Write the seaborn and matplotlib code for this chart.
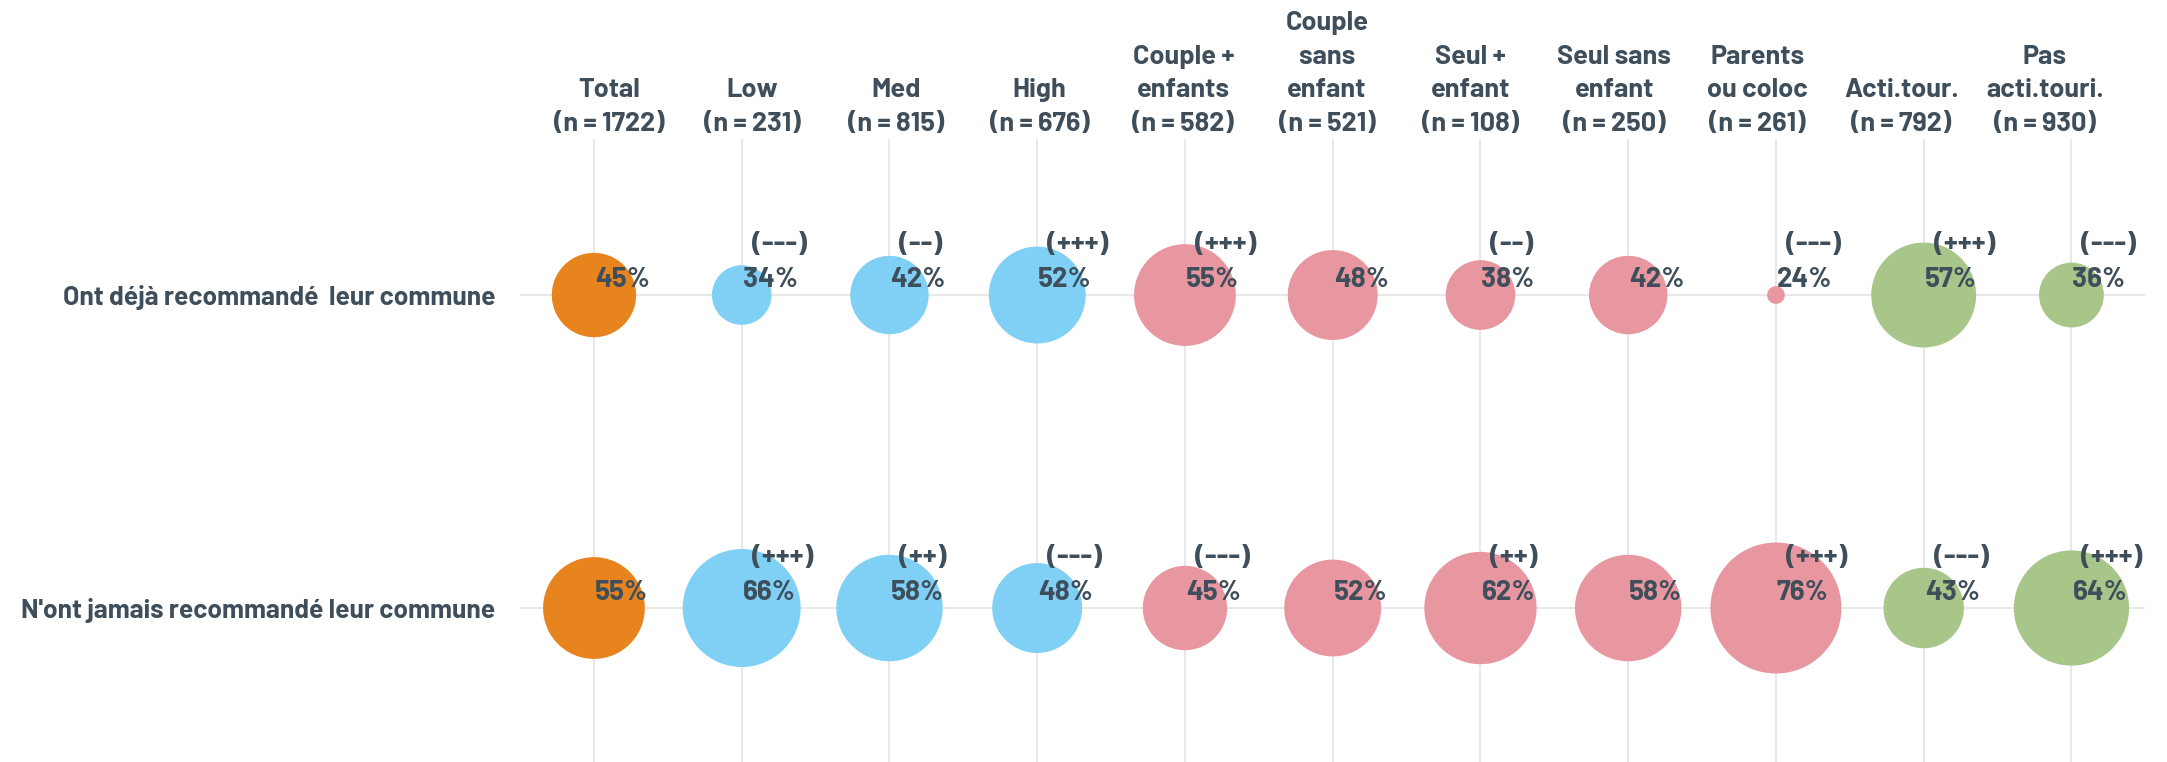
import matplotlib
matplotlib.use("Agg")
import matplotlib.pyplot as plt
import seaborn as sns
import pandas as pd
from matplotlib import font_manager

categories = ["Total\n(n = 1722)", "Low\n(n = 231)", "Med\n(n = 815)", "High\n(n = 676)",
              "Couple +\nenfants\n(n = 582)", "Couple\nsans\nenfant\n(n = 521)",
              "Seul +\nenfant\n(n = 108)", "Seul sans\nenfant\n(n = 250)",
              "Parents\nou coloc\n(n = 261)", "Acti.tour.\n(n = 792)", "Pas\nacti.touri.\n(n = 930)"]
groups = ["total", "income", "income", "income", "family", "family", "family", "family", "family",
          "tour", "tour"]
rows = ["Ont déjà recommandé  leur commune", "N'ont jamais recommandé leur commune"]
values_deja = [45, 34, 42, 52, 55, 48, 38, 42, 24, 57, 36]
values_jamais = [55, 66, 58, 48, 45, 52, 62, 58, 76, 43, 64]
sig_deja = ["", "(---)", "(--)", "(+++)", "(+++)", "", "(--)", "", "(---)", "(+++)", "(---)"]
sig_jamais = ["", "(+++)", "(++)", "(---)", "(---)", "", "(++)", "", "(+++)", "(---)", "(+++)"]

palette = {"total": "#E8841E", "income": "#80D0F5", "family": "#E8969F", "tour": "#A8C68A"}
TEXT = "#3E4E5A"

sns.set_theme(style="white")
names = {f.name for f in font_manager.fontManager.ttflist}
fam = "DejaVu Sans"
for cand in ["Barlow", "Barlow Semi Condensed", "Roboto Condensed"]:
    if cand in names:
        fam = cand
        break
plt.rcParams["font.family"] = [fam, "DejaVu Sans"]

recs = []
for ri, (vals, sigs) in enumerate([(values_deja, sig_deja), (values_jamais, sig_jamais)]):
    for ci in range(len(categories)):
        recs.append({"x": ci, "y": ri, "value": vals[ci], "group": groups[ci], "sig": sigs[ci]})
df = pd.DataFrame(recs)

n = len(categories)
fig = plt.figure(figsize=(21.67, 7.62), dpi=100)
ax = fig.add_axes([0.240, -0.0033, 0.750, 0.8215])
sns.scatterplot(data=df, x="x", y="y", size="value", hue="group", palette=palette,
                sizes=(162, 8896), size_norm=(24, 76), legend=False, linewidth=0,
                alpha=1, ax=ax, zorder=3)

ax.set_xlim(-0.5, n - 0.5)
ax.set_ylim(1.5, -0.5)
ax.set_xticks(range(n))
ax.set_xticklabels([])
ax.tick_params(axis="x", length=0, labelbottom=False, labeltop=False)
ax.set_yticks(range(len(rows)))
ax.set_yticklabels(rows)
ax.tick_params(axis="y", length=0, pad=18, labelsize=19, labelcolor=TEXT)
for lab in ax.get_yticklabels():
    lab.set_fontweight("bold")
ax.set_xlabel("")
ax.set_ylabel("")
ax.grid(True, color="#E4E4E4", linewidth=1.2, zorder=0)
ax.set_axisbelow(True)
for s in ax.spines.values():
    s.set_visible(False)

# column headers: evenly spaced band slightly narrower than the bubble grid
hdr_off, hdr_step = 0.1015, 0.9719
ax2 = ax.twiny()
ax2.set_xlim((-0.5 - hdr_off) / hdr_step, (n - 0.5 - hdr_off) / hdr_step)
ax2.set_xticks(range(n))
ax2.set_xticklabels(categories, linespacing=1.5)
ax2.tick_params(axis="x", length=0, pad=2, labelsize=19.5, labelcolor=TEXT)
for lab in ax2.get_xticklabels():
    lab.set_fontweight("bold")
ax2.grid(False)
for s in ax2.spines.values():
    s.set_visible(False)

for _, r in df.iterrows():
    ax.annotate(f"{r['value']}%", (r["x"], r["y"]), xytext=(0.7, 11.5), textcoords="offset points",
                ha="left", va="center", fontsize=20, fontweight="bold", color=TEXT, zorder=5)
    if r["sig"]:
        ax.annotate(r["sig"], (r["x"], r["y"]), xytext=(7.2, 36.5), textcoords="offset points",
                    ha="left", va="center", fontsize=20.5, fontweight="bold", color=TEXT, zorder=5)

fig.savefig("out.png", dpi=100)
